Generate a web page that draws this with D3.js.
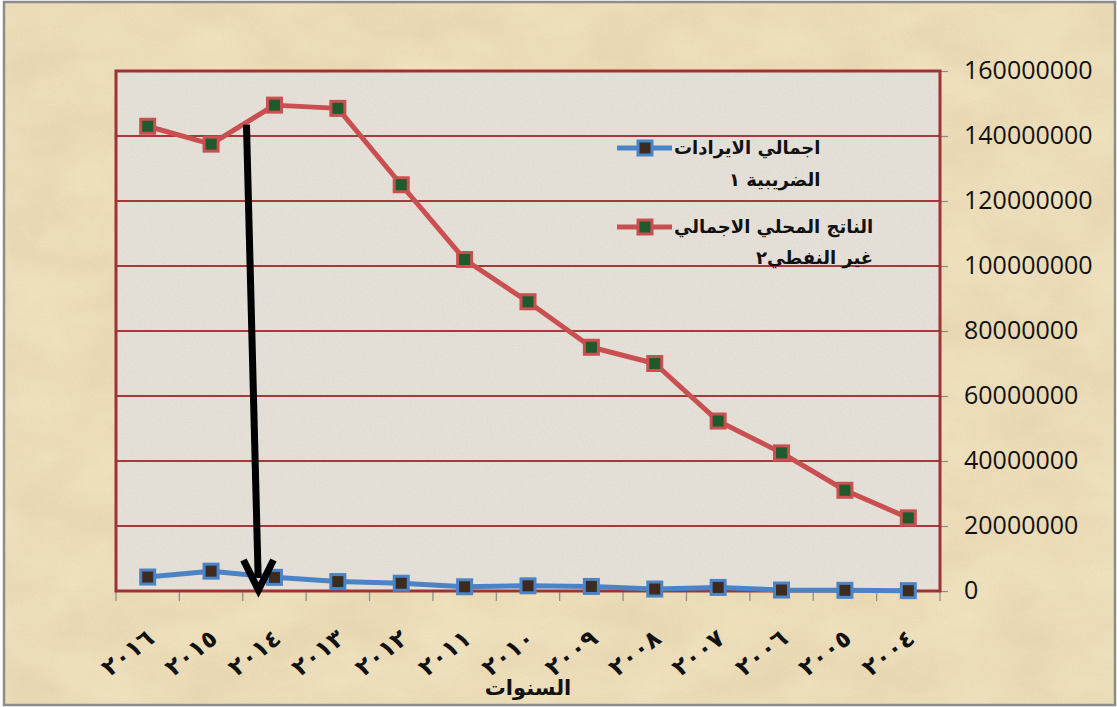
<!DOCTYPE html>
<html><head><meta charset="utf-8">
<script src="https://cdn.jsdelivr.net/npm/d3@7"></script>
<style>html,body{margin:0;padding:0;background:#fff;}svg{display:block;}</style>
</head><body>
<svg id="chart" width="1117" height="707"></svg>
<script>
// ---- data ----
const years = ["٢٠١٦","٢٠١٥","٢٠١٤","٢٠١٣","٢٠١٢","٢٠١١","٢٠١٠","٢٠٠٩","٢٠٠٨","٢٠٠٧","٢٠٠٦","٢٠٠٥","٢٠٠٤"];
const taxRevenue = [4300000, 6100000, 4200000, 2900000, 2400000, 1300000, 1600000, 1400000, 600000, 1100000, 300000, 200000, 100000];
const nonOilGdp = [143000000, 137500000, 149500000, 148500000, 125000000, 102000000, 89000000, 75000000, 70000000, 52300000, 42500000, 31000000, 22500000];
const yTicks = [0, 20000000, 40000000, 60000000, 80000000, 100000000, 120000000, 140000000, 160000000];
const seriesNames = [["اجمالي الايرادات", "الضريبية ١"], ["الناتج المحلي الاجمالي", "غير النفطي٢"]];
const axisTitle = "السنوات";
const arrowYear = "٢٠١٤";

const svg = d3.select("#chart");
const m = {left:116, right:940, top:71, bottom:591};

const defs = svg.append("defs");
const f1 = defs.append("filter").attr("id","parch").attr("x",0).attr("y",0).attr("width","100%").attr("height","100%");
f1.append("feTurbulence").attr("type","fractalNoise").attr("baseFrequency","0.012 0.02").attr("numOctaves",4).attr("seed",3).attr("result","t");
f1.append("feColorMatrix").attr("in","t").attr("type","matrix")
  .attr("values","0 0 0 0 0.55  0 0 0 0 0.42  0 0 0 0 0.2  0 0 0 0.55 -0.12");
const f2 = defs.append("filter").attr("id","grain").attr("x",0).attr("y",0).attr("width","100%").attr("height","100%");
f2.append("feTurbulence").attr("type","fractalNoise").attr("baseFrequency","0.9").attr("numOctaves",2).attr("seed",7).attr("result","t");
f2.append("feColorMatrix").attr("in","t").attr("type","matrix")
  .attr("values","0 0 0 0 0.4  0 0 0 0 0.38  0 0 0 0 0.35  0 0 0 0.5 -0.18");

// outer background
svg.append("rect").attr("x",4).attr("y",2).attr("width",1111).attr("height",703)
  .attr("fill","#f1e2bf").attr("stroke","#8c8c8c").attr("stroke-width",2.5);
svg.append("rect").attr("x",5).attr("y",3).attr("width",1109).attr("height",701).attr("filter","url(#parch)").attr("opacity",0.55);
svg.append("rect").attr("x",5).attr("y",3).attr("width",1109).attr("height",701).attr("filter","url(#grain)").attr("opacity",0.35);

const x = d3.scaleBand().domain(years).range([m.left, m.right]).padding(0);
const y = d3.scaleLinear().domain([0, 160000000]).range([m.bottom, m.top]);
const cx = d => x(d) + x.bandwidth()/2;

// plot area
svg.append("rect").attr("x",m.left).attr("y",m.top).attr("width",m.right-m.left).attr("height",m.bottom-m.top).attr("fill","#e5e1d9");
svg.append("rect").attr("x",m.left).attr("y",m.top).attr("width",m.right-m.left).attr("height",m.bottom-m.top).attr("filter","url(#grain)").attr("opacity",0.45);

// gridlines
svg.append("g").selectAll("line").data(yTicks.filter(d=>d>0)).join("line")
  .attr("x1",m.left).attr("x2",m.right).attr("y1",d=>y(d)).attr("y2",d=>y(d))
  .attr("stroke","#a8393b").attr("stroke-width",2);

// right axis
const yAxis = d3.axisRight(y).tickValues(yTicks).tickSize(8).tickPadding(16).tickFormat(d3.format("d"));
const ga = svg.append("g").attr("transform",`translate(${m.right},0)`).call(yAxis);
ga.select(".domain").remove();
ga.selectAll(".tick line").attr("stroke","#8a8a8a").attr("stroke-width",1.2);
ga.selectAll(".tick text").attr("font-family","'Open Sans', sans-serif").attr("font-size",25).attr("fill","#111").attr("dy","0.3em");

// bottom ticks at band boundaries
const bounds = years.map(d=>x(d)).concat([m.right]);
svg.append("g").selectAll("line").data(bounds).join("line")
  .attr("x1",d=>d).attr("x2",d=>d).attr("y1",m.bottom).attr("y2",m.bottom+10)
  .attr("stroke","#8a8a8a").attr("stroke-width",1.2);

// plot border
svg.append("rect").attr("x",m.left).attr("y",m.top).attr("width",m.right-m.left).attr("height",m.bottom-m.top)
  .attr("fill","none").attr("stroke","#9e3335").attr("stroke-width",3);

// x labels
svg.append("g").selectAll("text").data(years).join("text")
  .attr("transform",d=>`translate(${cx(d)-3},${m.bottom+36}) rotate(-38)`)
  .attr("text-anchor","end").attr("dy","0.75em").attr("letter-spacing",4)
  .attr("font-family","'DejaVu Sans', sans-serif").attr("font-weight","bold").attr("font-size",24).attr("fill","#111")
  .text(d=>d);

svg.append("text").attr("x",(m.left+m.right)/2).attr("y",695).attr("text-anchor","middle")
  .attr("font-family","'DejaVu Sans', sans-serif").attr("font-weight","bold").attr("font-size",21).attr("fill","#111")
  .text(axisTitle);

// series
const series = [
  {vals: taxRevenue, line:"#4a84c6", fill:"#3d2b1f", stroke:"#4a84c6"},
  {vals: nonOilGdp, line:"#c94f50", fill:"#1f5a2c", stroke:"#c94f50"}
];
const lineGen = d3.line().x((d,i)=>cx(years[i])).y(d=>y(d));
const MS = 14;
series.forEach(s => {
  svg.append("path").attr("d", lineGen(s.vals)).attr("fill","none").attr("stroke",s.line).attr("stroke-width",5).attr("stroke-linejoin","round");
  svg.append("g").selectAll("rect").data(s.vals).join("rect")
    .attr("x",(d,i)=>cx(years[i])-MS/2).attr("y",d=>y(d)-MS/2).attr("width",MS).attr("height",MS)
    .attr("fill",s.fill).attr("stroke",s.stroke).attr("stroke-width",3);
});

// legend
const legY = [[148,180],[227,258]];
series.forEach((s,k) => {
  const g = svg.append("g");
  g.append("line").attr("x1",617).attr("x2",672).attr("y1",legY[k][0]).attr("y2",legY[k][0]).attr("stroke",s.line).attr("stroke-width",5);
  g.append("rect").attr("x",645-MS/2).attr("y",legY[k][0]-MS/2).attr("width",MS).attr("height",MS).attr("fill",s.fill).attr("stroke",s.stroke).attr("stroke-width",3);
  const t1 = g.append("text").attr("x",674).attr("y",legY[k][0]).attr("dy","0.35em").attr("text-anchor","start")
    .attr("font-family","'DejaVu Sans', sans-serif").attr("font-weight","bold").attr("font-size",18).attr("fill","#111").text(seriesNames[k][0]);
  const w = t1.node().getComputedTextLength();
  g.append("text").attr("x",674+w).attr("y",legY[k][1]).attr("dy","0.35em").attr("text-anchor","end")
    .attr("font-family","'DejaVu Sans', sans-serif").attr("font-weight","bold").attr("font-size",18).attr("fill","#111").text(seriesNames[k][1]);
});

// annotation arrow
const ax = cx(arrowYear) - 16;
const a0 = [ax - 12, y(143500000)], a1 = [ax, m.bottom - 1];
svg.append("line").attr("x1",a0[0]).attr("y1",a0[1]).attr("x2",a1[0]-0.3).attr("y2",a1[1]-12)
  .attr("stroke","#000").attr("stroke-width",7);
svg.append("path").attr("d",`M${a1[0]-15},${a1[1]-30} L${a1[0]},${a1[1]} L${a1[0]+15},${a1[1]-30}`)
  .attr("fill","none").attr("stroke","#000").attr("stroke-width",7).attr("stroke-linejoin","miter");
</script>
</body></html>
